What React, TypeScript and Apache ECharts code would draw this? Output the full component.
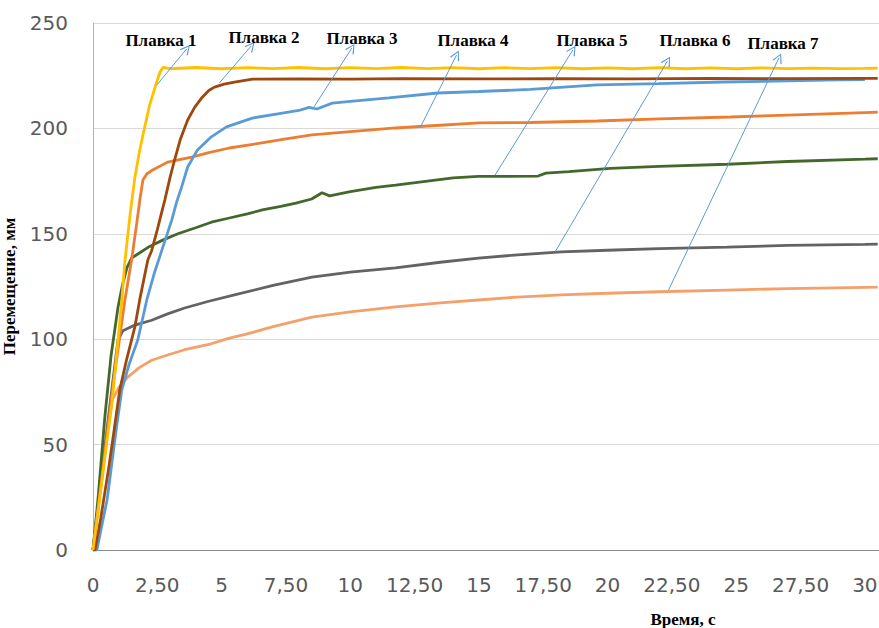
import React, { useEffect, useRef } from "react";
import * as echarts from "echarts";

// ---- data (time, s ; displacement, mm) ----
const seriesNames = ["Плавка 1", "Плавка 2", "Плавка 3", "Плавка 4", "Плавка 5", "Плавка 6", "Плавка 7"];
const seriesColors = ["#FFC000", "#9E480E", "#5B9BD5", "#ED7D31", "#43682B", "#636363", "#F4A06B"];

const melt1 = [[0,0],[0.4,38],[0.75,71],[1.12,118.6],[1.24,137],[1.45,160],[1.63,177],[1.82,190],[2.01,200.7],[2.2,211],[2.44,220.6],[2.6,226.5],[2.72,229],[3,228.3],[4,228.9],[5,228.3],[6,228.8],[7,228.4],[8,228.9],[9,228.3],[10,228.8],[11,228.4],[12,228.9],[13,228.4],[14,228.8],[15,228.3],[16,228.8],[17,228.4],[18,228.8],[19,228.3],[20,228.7],[21,228.3],[22,228.8],[23,228.3],[24,228.7],[25,228.3],[26,228.7],[27,228.4],[28,228.6],[29,228.4],[30,228.5],[30.5,228.6]];
const melt2 = [[0,0],[0.08,0],[0.3,15],[0.6,38],[0.8,55],[1.04,76],[1.3,90],[1.63,106],[1.82,119],[2.13,137.6],[2.28,142],[2.5,152],[2.79,166],[3.0,177],[3.17,185],[3.4,195],[3.68,204],[3.95,210],[4.22,214.4],[4.5,218],[4.72,219.6],[5.1,221],[5.5,222],[6.2,223.4],[8,223.5],[10,223.4],[12,223.6],[15,223.5],[18,223.6],[21,223.5],[24,223.7],[27,223.6],[30,223.7],[30.5,223.7]];
const melt3 = [[0,0],[0.15,0],[0.35,12],[0.55,24],[0.7,38],[0.9,57],[1.12,76],[1.4,88],[1.74,99.6],[2.09,118.6],[2.4,132],[2.67,142],[3.06,156.5],[3.25,165],[3.44,172],[3.68,181.7],[4.06,189.8],[4.6,196],[5.19,200.7],[6.19,204.9],[7.24,207],[8,208.5],[8.4,210],[8.7,209.2],[9.3,212],[10,212.8],[11.5,214.5],[13.4,216.8],[15,217.5],[17,218.5],[19.6,220.6],[22,221.2],[24.5,222],[27,222.5],[29,223],[30,223.2]];
const melt4 = [[0,0],[0.4,40],[0.8,80],[1.24,118.6],[1.5,137.6],[1.7,155],[1.82,166],[1.94,175.5],[2.1,178.5],[2.28,180],[2.9,184],[3.83,186.4],[4.5,188.5],[5.3,190.7],[6.5,193],[7.5,195],[8.51,196.9],[10,198.5],[11.76,200.2],[13.5,201.5],[15,202.6],[17,202.8],[19.6,203.5],[22,204.5],[24.77,205.4],[27,206.3],[30,207.5],[30.5,207.7]];
const melt5 = [[0,0],[0.2,25],[0.46,63],[0.7,92],[0.97,115],[1.15,126],[1.32,134],[1.5,138.5],[1.82,141],[2.2,144],[2.71,147],[3.3,150],[4.02,153],[4.6,155.5],[5.3,157.5],[6,159.5],[6.58,161.3],[7.3,163],[7.89,164.6],[8.5,166.5],[8.9,169.5],[9.2,168],[10,170],[11,172],[11.76,173.1],[13,175],[14,176.5],[14.98,177.2],[16,177.2],[17.3,177.4],[17.6,178.8],[18.5,179.5],[20.1,181],[22,182],[24.65,183],[27,184.3],[30,185.4],[30.5,185.6]];
const melt6 = [[0,0],[0.3,32],[0.6,63],[0.97,99.6],[1.16,104],[1.63,106.7],[2.28,109],[2.9,112],[3.56,114.8],[4.5,118],[5.5,121],[7,125.5],[8.51,129.5],[10,131.8],[11.76,133.8],[13.5,136.5],[14.98,138.5],[16.5,140],[18.2,141.4],[20,142.2],[22,143],[24.65,143.7],[27,144.5],[30,145],[30.5,145.1]];
const melt7 = [[0,0],[0.3,29],[0.55,55],[0.74,71],[1.0,77],[1.35,82],[1.8,86.5],[2.28,90],[2.9,92.5],[3.56,95],[4.5,97.5],[5.3,100.5],[6,102.5],[7,106],[8.51,110.5],[10,113],[11.76,115.3],[13.5,117.2],[14.98,118.6],[16.5,120],[18.2,121],[20,121.8],[22,122.5],[24.65,123.3],[27,124],[30,124.6],[30.5,124.7]];
const meltData = [melt1, melt2, melt3, melt4, melt5, melt6, melt7];

// arrows: [start on curve, arrow head] in data units
const arrowStarts = [[2.48,220.6],[4.91,221.5],[8.59,210.2],[12.73,200.7],[15.63,177.9],[17.96,141.4],[22.37,123.3]];
const arrowHeads = [[3.64,237.7],[6.15,239.1],[10.06,238.1],[14.13,234.8],[18.65,237.2],[22.33,232.0],[26.66,233.4]];

// label positions (pixel centers)
const labelPos = [[161,40],[264,37],[362,38],[473,40],[592,40],[695,40],[783,43]];

const yTicks = [0, 50, 100, 150, 200, 250];
const xInterval = 2.5;

const fmt = (v: number) => {
  if (v > 30.01) return "";
  if (Math.abs(v - Math.round(v)) < 1e-6) return String(Math.round(v));
  return v.toFixed(2).replace(".", ",");
};

const ARROW = "path://M5,0 L10,9 L9,9.8 L5,2 L1,9.8 L0,9 Z";

export default function App() {
  const ref = useRef<HTMLDivElement>(null);
  useEffect(() => {
    if (!ref.current) return;
    const chart = echarts.init(ref.current, null, { renderer: "svg" });
    const order = [6, 5, 4, 3, 2, 1, 0];
    const series = order.map((i) => ({
      name: seriesNames[i],
      type: "line",
      data: meltData[i],
      showSymbol: false,
      symbol: "none",
      clip: true,
      lineStyle: { color: seriesColors[i], width: 2.8 },
      itemStyle: { color: seriesColors[i] },
      z: 2,
      markLine: {
        silent: true,
        symbol: ["none", ARROW],
        symbolSize: [10, 10],
        label: { show: false },
        lineStyle: { color: "#5B9BD5", width: 1, type: "solid" },
        emphasis: { disabled: true },
        data: [[{ coord: arrowStarts[i] }, { coord: arrowHeads[i] }]],
        z: 5,
      },
    }));
    chart.setOption({
      animation: false,
      backgroundColor: "#ffffff",
      grid: { left: 93, top: 23, right: 0, bottom: 78, containLabel: false, outerBoundsMode: "none" },
      xAxis: {
        type: "value",
        min: 0,
        max: 30.55,
        interval: xInterval,
        axisLine: { show: true, lineStyle: { color: "#8C8C8C", width: 1 } },
        axisTick: { show: false },
        splitLine: { show: false },
        axisLabel: {
          formatter: fmt,
          color: "#595959",
          fontSize: 20,
          fontFamily: "DejaVu Sans",
          margin: 25,
          showMaxLabel: true,
        },
      },
      yAxis: {
        type: "value",
        min: yTicks[0],
        max: yTicks[yTicks.length - 1],
        interval: 50,
        name: "Перемещение, мм",
        nameLocation: "middle",
        nameGap: 75,
        nameTextStyle: { fontFamily: "Liberation Serif", fontWeight: "bold", fontSize: 17, color: "#000" },
        axisLine: { show: true, lineStyle: { color: "#B3B3B3", width: 1 } },
        axisTick: { show: false },
        splitLine: { show: true, lineStyle: { color: "#D9D9D9", width: 1 } },
        axisLabel: { color: "#595959", fontSize: 20, fontFamily: "DejaVu Sans", margin: 25 },
      },
      graphic: [
        ...seriesNames.map((n, i) => ({
          type: "text",
          x: labelPos[i][0],
          y: labelPos[i][1],
          z: 10,
          style: {
            text: n,
            fill: "#000",
            font: "bold 17px 'Liberation Serif'",
            textAlign: "center",
            textVerticalAlign: "middle",
          },
        })),
        {
          type: "text",
          x: 683,
          y: 619,
          style: {
            text: "Время, с",
            fill: "#000",
            font: "bold 17px 'Liberation Serif'",
            textAlign: "center",
            textVerticalAlign: "middle",
          },
        },
      ],
      series,
    });
    return () => chart.dispose();
  }, []);
  return <div ref={ref} style={{ position: "absolute", left: 0, top: 0, width: 879, height: 628 }} />;
}
